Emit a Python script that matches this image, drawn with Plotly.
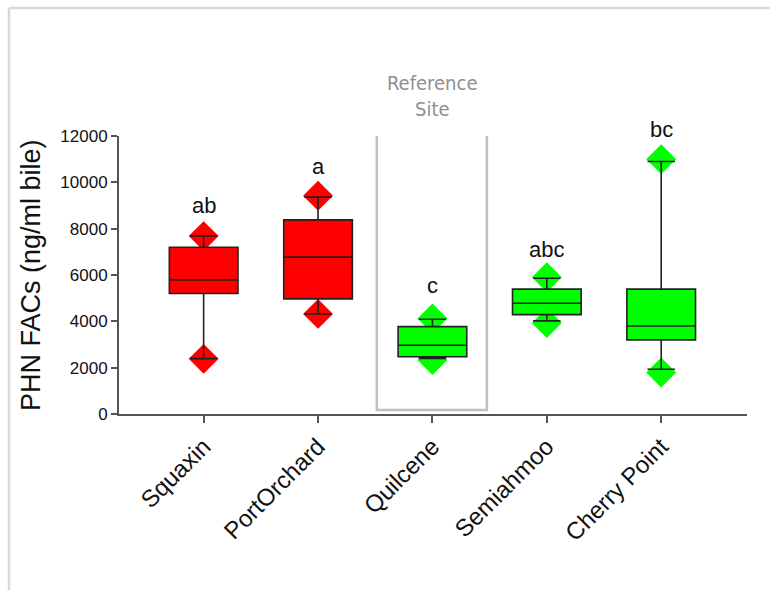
import plotly.graph_objects as go

sites = ["Squaxin", "PortOrchard", "Quilcene", "Semiahmoo", "Cherry Point"]
q1 = [5200, 4970, 2470, 4290, 3200]
median = [5790, 6770, 2970, 4780, 3800]
q3 = [7200, 8380, 3770, 5390, 5390]
lower_whisker = [2390, 4320, 2400, 4020, 1930]
upper_whisker = [7690, 9360, 4090, 5860, 10900]
low_point = [2380, 4320, 2330, 3930, 1790]
high_point = [7680, 9420, 4120, 5900, 11000]
letters = ["ab", "a", "c", "abc", "bc"]
letter_y = [8990, 10680, 5540, 7110, 12280]
colors = ["#ff0000", "#ff0000", "#00ff00", "#00ff00", "#00ff00"]

Y_MAX = 12000
X_RANGE = [-0.74, 4.75]
FONT = "Liberation Sans, Arial, sans-serif"
EDGE = "#222222"

fig = go.Figure()

# diamonds on the base subplot (drawn beneath the boxes)
for i, s in enumerate(sites):
    fig.add_trace(go.Scatter(
        x=[s, s], y=[low_point[i], high_point[i]], mode="markers",
        marker=dict(symbol="diamond", size=23, color=colors[i],
                    line=dict(color=colors[i], width=0)),
        showlegend=False, hoverinfo="skip", xaxis="x", yaxis="y"))

# boxes on an overlaid subplot so they sit on top of the diamonds
for i, s in enumerate(sites):
    fig.add_trace(go.Box(
        x=[s], q1=[q1[i]], median=[median[i]], q3=[q3[i]],
        lowerfence=[lower_whisker[i]], upperfence=[upper_whisker[i]],
        fillcolor=colors[i], line=dict(color=EDGE, width=1.6),
        width=0.6, whiskerwidth=0.4, showlegend=False, boxpoints=False,
        xaxis="x2", yaxis="y2"))

for i, s in enumerate(sites):
    fig.add_annotation(xref="x", yref="paper", x=s, y=letter_y[i] / Y_MAX,
                       text=letters[i], showarrow=False,
                       font=dict(family=FONT, size=22, color="#111111"),
                       yanchor="middle")

# reference site box
fig.add_shape(type="rect", xref="x", yref="y", x0=1.514, x1=2.476, y0=173, y1=12226,
              line=dict(color="#c0c0c0", width=2.5), fillcolor="rgba(0,0,0,0)")
fig.add_annotation(xref="x", yref="paper", x=2.0, y=(414 - 96) / 278,
                   text="Reference<br>Site", showarrow=False,
                   font=dict(family="Liberation Sans Narrow, DejaVu Sans Condensed, Open Sans", size=20, color="#8f8f8f"),
                   yanchor="middle")

# y title
fig.add_annotation(xref="paper", yref="paper", x=(31 - 119) / 628, y=0.5,
                   text="PHN FACs (ng/ml bile)", textangle=-90, showarrow=False,
                   font=dict(family=FONT, size=27, color="#111111"),
                   xanchor="center", yanchor="middle")

# page frame
fig.add_shape(type="line", xref="paper", yref="paper",
              x0=(9 - 119) / 628, x1=(9 - 119) / 628, y0=(414 - 8) / 278, y1=(414 - 600) / 278,
              line=dict(color="#d9d9d9", width=2.5))
fig.add_shape(type="line", xref="paper", yref="paper",
              x0=(9 - 119) / 628, x1=(780 - 119) / 628, y0=(414 - 8) / 278, y1=(414 - 8) / 278,
              line=dict(color="#d9d9d9", width=2.5))

fig.update_layout(
    width=770, height=590,
    margin=dict(l=119, r=23, t=136, b=176),
    plot_bgcolor="white", paper_bgcolor="white",
    showlegend=False,
    xaxis=dict(range=X_RANGE, showline=True, linecolor="#555555", linewidth=2,
               ticks="outside", ticklen=7, tickcolor="#555555", tickwidth=2,
               tickangle=-45, tickfont=dict(family=FONT, size=24, color="#111111"),
               showgrid=False, zeroline=False, categoryorder="array", categoryarray=sites),
    yaxis=dict(range=[0, Y_MAX], dtick=2000, tickformat="d", showline=True,
               linecolor="#555555", linewidth=2,
               ticks="outside", ticklen=6, tickcolor="#555555", tickwidth=2,
               tickfont=dict(family=FONT, size=17, color="#111111"),
               showgrid=False, zeroline=False),
    xaxis2=dict(overlaying="x", anchor="y2", range=X_RANGE, visible=False,
                categoryorder="array", categoryarray=sites),
    yaxis2=dict(overlaying="y", anchor="x2", range=[0, Y_MAX], visible=False),
)

fig.write_html("out.html")
